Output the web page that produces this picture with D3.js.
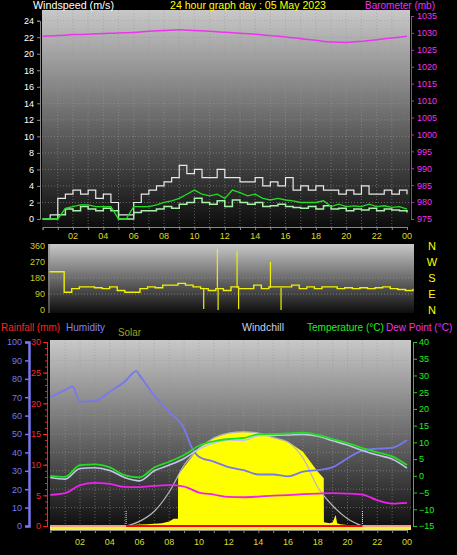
<!DOCTYPE html>
<html><head><meta charset="utf-8">
<script src="https://cdn.jsdelivr.net/npm/d3@7"></script>
<style>body{margin:0;background:#000}svg{display:block}text{font-family:"Liberation Sans",Arial,sans-serif}</style>
</head><body><div id="chart"></div>
<script>
// half-hourly samples 0..24
var gust = [0,0.5,2.5,3,3.5,3,3.5,2.5,3,2,0.5,0.5,2,3,3.5,4,4.5,5,6.5,5.5,6,5,5,6,5,5,4.5,4.5,5,4,4.5,4,5,3.5,4,3.5,4,3.5,3.5,3,3.5,3,4,3,3,3.5,3,3.5,3];
var wind = [0,0,0.5,1.2,1,1.5,1.2,1,1.3,1,0,0,0.8,1,1,1.2,1.5,1.3,1.8,2,2.5,2,1.8,2.2,1.5,2.3,2,1.8,2,1.5,1.6,1.8,1.5,1.4,1.3,1.5,1.2,1.6,1.2,1.3,1,1.2,1.1,1.3,1,1.2,1.1,1,0.8];
var windAvg = [0,0,0,1.3,1.5,1.7,1.7,1.5,1.5,1.5,0,0,1.5,1.5,1.5,1.7,2,2.2,2.5,3,3.5,3,2.8,3,2.5,3.5,3.2,2.8,3,2.5,2.3,2.5,2.3,2.2,2,2,2,2.2,1.5,1.8,1.5,1.6,1.5,1.8,1.5,1.6,1.4,1.5,1.2];
var dir = [215,215,100,120,130,130,125,120,130,110,100,100,120,130,125,140,140,150,140,130,120,110,120,110,130,120,120,140,120,130,130,130,140,120,130,120,130,130,120,125,120,125,120,125,130,120,115,110,120];
var dirSpikes = [[11.1,345],[11.15,0],[12.4,330],[12.5,5],[14.6,270],[15.3,0],[10.2,5]];
// hourly samples 0..24
var baro = [1029,1029.2,1029.5,1029.6,1029.8,1030,1030.1,1030.5,1030.7,1030.9,1030.7,1030.5,1030.2,1029.9,1029.6,1029.2,1028.8,1028.3,1027.8,1027.3,1027.2,1027.5,1028,1028.5,1029];
var temp = [0,-0.3,3.2,3.4,2.5,0.2,-0.5,2.5,4.2,6.2,9,10.3,11,11.3,12.4,12.5,12.7,12.9,12.2,11,9.8,8.3,7,5.8,3.2];
var chill = [-0.5,-1,2.2,2.4,1.6,-0.5,-1.5,1.5,3.2,5.2,8,9.8,10.7,10.6,12,12.1,12.2,12.4,11.8,10.5,9.2,7.6,6.2,5,2.3];
var dew = [-5.7,-5.2,-2.8,-2.1,-2.4,-3.3,-3.4,-3,-2.8,-3.2,-5,-5.6,-6.3,-6.4,-6.2,-5.9,-5.8,-5.5,-5.3,-5.2,-5.3,-5.6,-7.3,-8.3,-8.1];
var hum = [70,74,68,67,73,78,82,71,62,53,38,35,32,30.4,28,28,27,29.5,30.4,32,36.8,41,42,42.5,46.7];
var humPeakTime = [0,0.5,1,1.5,2,3,4,5,5.8,6,7,8,9,9.5,10];
var humPeak = [70,72,74,75.7,67.6,68,73,78.4,84.2,82,71,62,53,43,37.7];
var solarT = [0,5,5.5,6,6.5,7,7.5,8,8.3,8.59,8.6,9,10,11,12,13,14,15,16,17,18,18.4,18.41,18.8,19,19.2,19.3,19.5,20,21,21.01,24];
var solar = [0,0,5,8,10,12,15,25,40,40,277,320,424,478,505,512,505,480,458,404,295,260,20,15,20,60,15,10,5,3,0,0];
var solarTheoT = [5.1,6,7,8,9,10,11,12,13,14,15,16,17,18,19,20,21];
var solarTheo = [0,25,80,185,330,420,478,505,512,505,480,455,370,210,110,40,0];
var sunMarks = [5.1,21];
var hourLabels = ["02","04","06","08","10","12","14","16","18","20","22","00"];

var svg = d3.select("#chart").append("svg").attr("width",457).attr("height",555);
var defs = svg.append("defs");
var grad = defs.append("linearGradient").attr("id","bg").attr("x1",0).attr("y1",0).attr("x2",0).attr("y2",1);
grad.append("stop").attr("offset","0%").attr("stop-color","#c8c8c8");
grad.append("stop").attr("offset","100%").attr("stop-color","#0c0c0c");

var half = d3.range(0,24.01,0.5), hrs = d3.range(0,25);

function panel(x0,x1,y0,y1){
  svg.append("rect").attr("x",x0).attr("y",y0).attr("width",x1-x0).attr("height",y1-y0).attr("fill","url(#bg)");
}
function grid(x,y,yt,x0,x1,y0,y1){
  var g = svg.append("g").attr("stroke","#9a9a9a").attr("stroke-dasharray","1,2").attr("stroke-width",0.7).attr("opacity",0.8);
  d3.range(1,24).forEach(function(h){ g.append("line").attr("x1",x(h)).attr("x2",x(h)).attr("y1",y0).attr("y2",y1); });
  yt.forEach(function(v){ g.append("line").attr("x1",x0).attr("x2",x1).attr("y1",y(v)).attr("y2",y(v)); });
}
function txt(x,y,s,c,anchor,size,len){
  var t = svg.append("text").attr("x",x).attr("y",y).attr("fill",c).attr("font-size",size||11).attr("text-anchor",anchor||"start").text(s);
  if (len) t.attr("textLength",len).attr("lengthAdjust","spacingAndGlyphs");
  return t;
}

// ---- top panel: wind + barometer
var xT = d3.scaleLinear().domain([0,24]).range([42.6,407]);
var yW = d3.scaleLinear().domain([0,24]).range([219,20.7]);
var yB = d3.scaleLinear().domain([975,1035]).range([219,16]);
panel(42,410,10,227);
grid(xT,yW,d3.range(2,25,2),42,410,10,227);
var stepLine = d3.line().curve(d3.curveStepAfter);
svg.append("path").attr("d",stepLine(half.map(function(h,i){return [xT(h),yW(gust[i])];})))
  .attr("fill","none").attr("stroke","#e8e8e8").attr("stroke-width",1.2);
svg.append("path").attr("d",stepLine(half.map(function(h,i){return [xT(h),yW(wind[i])];})))
  .attr("fill","none").attr("stroke","#a8f0a8").attr("stroke-width",1.5);
svg.append("path").attr("d",d3.line()(half.map(function(h,i){return [xT(h),yW(windAvg[i])];})))
  .attr("fill","none").attr("stroke","#22dd22").attr("stroke-width",1.3);
svg.append("path").attr("d",d3.line().curve(d3.curveMonotoneX)(hrs.map(function(h,i){return [xT(h),yB(baro[i])];})))
  .attr("fill","none").attr("stroke","#ee33ee").attr("stroke-width",1.5);
var aW = svg.append("g").attr("transform","translate(40,0)").call(d3.axisLeft(yW).tickValues(d3.range(0,25,2)).tickSize(3).tickFormat(d3.format("d")));
aW.selectAll("text").attr("fill","#fff").attr("font-size",9);
aW.selectAll("line,path").attr("stroke","#888");
var aB = svg.append("g").attr("transform","translate(411,0)").call(d3.axisRight(yB).tickValues(d3.range(975,1036,5)).tickSize(3).tickFormat(d3.format("d")));
aB.selectAll("text").attr("fill","#ee33ee").attr("font-size",9);
aB.selectAll("line,path").attr("stroke","#cc22cc");
var aX = svg.append("g").attr("transform","translate(0,227)").call(d3.axisBottom(xT).ticks(24).tickSize(3).tickFormat(""));
aX.selectAll("line,path").attr("stroke","#888");
hourLabels.forEach(function(s,i){ txt(xT(2*(i+1)),239,s,"#dddd22","middle",9); });
txt(33,9,"Windspeed (m/s)","#fff","start",11,81);
txt(170,9,"24 hour graph day : 05 May 2023","#ffff00","start",11,156);
txt(365,9,"Barometer (mb)","#ee33ee","start",11,70);

// ---- middle panel: wind direction
var xM = d3.scaleLinear().domain([0,24]).range([49,413]);
var yD = d3.scaleLinear().domain([0,360]).range([310,246]);
panel(48,414,244,313);
var gD = svg.append("g").attr("stroke","#9a9a9a").attr("stroke-dasharray","1,2").attr("stroke-width",0.7);
[90,180,270].forEach(function(v){ gD.append("line").attr("x1",48).attr("x2",414).attr("y1",yD(v)).attr("y2",yD(v)); });
svg.append("path").attr("d",stepLine(half.map(function(h,i){return [xM(h),yD(dir[i])];})))
  .attr("fill","none").attr("stroke","#f0f000").attr("stroke-width",1.4);
dirSpikes.forEach(function(s){
  svg.append("line").attr("x1",xM(s[0])).attr("x2",xM(s[0])).attr("y1",yD(125)).attr("y2",yD(s[1])).attr("stroke","#f0f000").attr("stroke-width",1.2);
});
svg.append("line").attr("x1",49).attr("x2",49).attr("y1",244).attr("y2",313).attr("stroke","#888");
var aD = svg.append("g").attr("transform","translate(47,0)").call(d3.axisLeft(yD).tickValues([0,90,180,270,360]).tickSize(0).tickPadding(2));
aD.selectAll("text").attr("fill","#cccc22").attr("font-size",9);
aD.select("path").remove();
["N","W","S","E","N"].forEach(function(s,i){ txt(432,250+i*16,s,"#ffff00","middle",11); });

// header row of bottom panel
txt(1,331,"Rainfall (mm)","#ff2222","start",11,59);
txt(66,331,"Humidity","#8080ff","start",11,39);
txt(118,336,"Solar","#a0a020","start",11,23);
txt(242,331,"Windchill","#c8d0f0","start",11,42);
txt(307,331,"Temperature (°C)","#22ee22","start",10);
txt(386,331,"Dew Point (°C)","#ee33ee","start",10);

// ---- bottom panel
var xL = d3.scaleLinear().domain([0,24]).range([50.3,407]);
var yH = d3.scaleLinear().domain([0,100]).range([526,342]);
var yR = d3.scaleLinear().domain([0,30]).range([526,342]);
var yC = d3.scaleLinear().domain([-15,40]).range([526,342]);
var yS = d3.scaleLinear().domain([0,1000]).range([526,342]);
panel(50,411,340,530);
grid(xL,yH,d3.range(10,100,10),50,411,340,530);
svg.append("path").attr("d",d3.area().x(function(d){return xL(d[0]);}).y0(yS(0)).y1(function(d){return yS(d[1]);})(solarT.map(function(t,i){return [t,solar[i]];})))
  .attr("fill","#ffff00");
svg.append("path").attr("d",d3.line().curve(d3.curveMonotoneX)(solarTheoT.map(function(t,i){return [xL(t),yS(solarTheo[i])];})))
  .attr("fill","none").attr("stroke","#b8b8b8").attr("stroke-width",1.2);
sunMarks.forEach(function(t){
  svg.append("line").attr("x1",xL(t)).attr("x2",xL(t)).attr("y1",511).attr("y2",526).attr("stroke","#ffff00").attr("stroke-dasharray","1,1");
});
var lineC = d3.line().curve(d3.curveMonotoneX);
function series(xs,vals,scale,color,w){
  svg.append("path").attr("d",lineC(xs.map(function(t,i){return [xL(t),scale(vals[i])];})))
    .attr("fill","none").attr("stroke",color).attr("stroke-width",w);
}
series(hrs,dew,yC,"#ee22ee",1.8);
series(humPeakTime.concat(d3.range(11,25)),humPeak.concat(hum.slice(11)),yH,"#7878ee",1.8);
series(hrs,chill,yC,"#c0c8e8",1.6);
series(hrs,temp,yC,"#22dd22",1.8);
svg.append("rect").attr("x",50).attr("y",526).attr("width",361).attr("height",4).attr("fill","#f4f040");
svg.append("line").attr("x1",50).attr("x2",411).attr("y1",yR(0)).attr("y2",yR(0)).attr("stroke","#f0a080").attr("stroke-width",2);
svg.append("line").attr("x1",xL(5.1)).attr("x2",xL(21)).attr("y1",yR(0)).attr("y2",yR(0)).attr("stroke","#ff0000").attr("stroke-width",2);

var aH = svg.append("g").attr("transform","translate(29,0)").call(d3.axisLeft(yH).tickValues(d3.range(0,101,10)).tickSize(4).tickPadding(3));
aH.selectAll("text").attr("fill","#7878ee").attr("font-size",9);
aH.selectAll("line,path").attr("stroke","#7878ee").attr("stroke-width",1.5);
aH.select("path").attr("stroke-width",2.5);
var aR = svg.append("g").attr("transform","translate(47,0)").call(d3.axisLeft(yR).tickValues(d3.range(0,31,5)).tickSize(4).tickPadding(2));
aR.selectAll("text").attr("fill","#ff2222").attr("font-size",9);
aR.selectAll("line,path").attr("stroke","#ff2222");
var aR2 = svg.append("g").attr("transform","translate(47,0)").call(d3.axisLeft(yR).ticks(30).tickSize(2).tickFormat(""));
aR2.selectAll("line,path").attr("stroke","#ff2222");
var aC = svg.append("g").attr("transform","translate(413,0)").call(d3.axisRight(yC).tickValues(d3.range(-15,41,5)).tickSize(4).tickPadding(2));
aC.selectAll("text").attr("fill","#22ee22").attr("font-size",9);
aC.selectAll("line,path").attr("stroke","#22cc22");
var aX2 = svg.append("g").attr("transform","translate(0,530)").call(d3.axisBottom(xL).ticks(24).tickSize(3).tickFormat(""));
aX2.selectAll("line,path").attr("stroke","#888");
hourLabels.forEach(function(s,i){ txt(xL(2*(i+1)),545,s,"#dddd22","middle",9); });
</script></body></html>
